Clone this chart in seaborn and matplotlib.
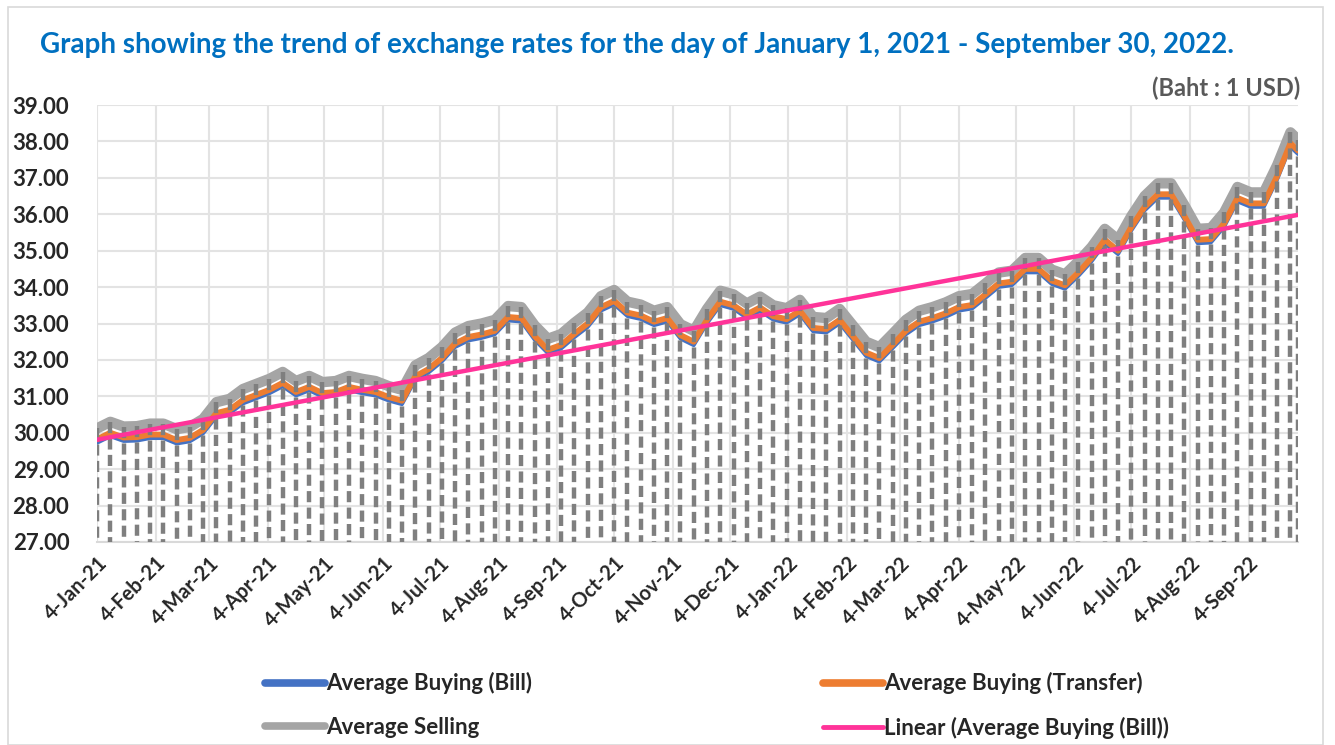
import numpy as np
import pandas as pd
import matplotlib
matplotlib.use("Agg")
import matplotlib.pyplot as plt
import matplotlib.dates as mdates
from matplotlib.patches import Rectangle
from matplotlib.lines import Line2D
import seaborn as sns

# ============================================
# Data: weekly readings, 4-Jan-21 .. 30-Sep-22 (Baht : 1 USD)
# ============================================
dates = list(pd.date_range("2021-01-04", periods=91, freq="7D")) + [pd.Timestamp("2022-09-30")]

bill = [29.72, 29.90, 29.77, 29.78, 29.85, 29.85, 29.70, 29.76, 29.98, 30.44,
        30.53, 30.80, 30.94, 31.08, 31.27, 31.02, 31.16, 30.99, 31.02, 31.16,
        31.08, 31.02, 30.88, 30.78, 31.45, 31.65, 31.95, 32.35, 32.53, 32.60,
        32.70, 33.08, 33.05, 32.55, 32.18, 32.31, 32.62, 32.90, 33.35, 33.52,
        33.20, 33.12, 32.95, 33.05, 32.58, 32.40, 33.00, 33.50, 33.40, 33.15,
        33.34, 33.10, 33.02, 33.25, 32.78, 32.75, 33.00, 32.55, 32.10, 31.95,
        32.32, 32.70, 32.95, 33.05, 33.18, 33.35, 33.41, 33.70, 34.00, 34.05,
        34.40, 34.40, 34.08, 33.95, 34.30, 34.70, 35.20, 34.90, 35.55, 36.10,
        36.45, 36.45, 35.85, 35.20, 35.22, 35.65, 36.35, 36.20, 36.20, 36.95,
        37.85, 37.65]

transfer = [29.82, 30.00, 29.87, 29.88, 29.95, 29.95, 29.80, 29.86, 30.08, 30.54,
            30.63, 30.90, 31.04, 31.18, 31.37, 31.12, 31.26, 31.09, 31.12, 31.26,
            31.18, 31.12, 30.98, 30.88, 31.55, 31.75, 32.05, 32.45, 32.63, 32.70,
            32.80, 33.18, 33.15, 32.65, 32.28, 32.41, 32.72, 33.00, 33.45, 33.62,
            33.30, 33.22, 33.05, 33.15, 32.68, 32.50, 33.10, 33.60, 33.50, 33.25,
            33.44, 33.20, 33.12, 33.35, 32.88, 32.85, 33.10, 32.65, 32.20, 32.05,
            32.42, 32.80, 33.05, 33.15, 33.28, 33.45, 33.51, 33.80, 34.10, 34.15,
            34.50, 34.50, 34.18, 34.05, 34.40, 34.80, 35.30, 35.00, 35.65, 36.20,
            36.55, 36.55, 35.95, 35.30, 35.32, 35.75, 36.45, 36.30, 36.30, 37.05,
            37.95, 37.75]

selling = [30.12, 30.30, 30.17, 30.18, 30.25, 30.25, 30.10, 30.16, 30.38, 30.84,
           30.93, 31.20, 31.34, 31.48, 31.67, 31.42, 31.56, 31.39, 31.42, 31.56,
           31.48, 31.42, 31.28, 31.18, 31.85, 32.05, 32.35, 32.75, 32.93, 33.00,
           33.10, 33.48, 33.45, 32.95, 32.58, 32.71, 33.02, 33.30, 33.75, 33.92,
           33.60, 33.52, 33.35, 33.45, 32.98, 32.80, 33.40, 33.90, 33.80, 33.55,
           33.74, 33.50, 33.42, 33.65, 33.18, 33.15, 33.40, 32.95, 32.50, 32.35,
           32.72, 33.10, 33.35, 33.45, 33.58, 33.75, 33.81, 34.10, 34.40, 34.45,
           34.80, 34.80, 34.48, 34.35, 34.70, 35.10, 35.60, 35.30, 35.95, 36.50,
           36.85, 36.85, 36.25, 35.60, 35.62, 36.05, 36.75, 36.60, 36.60, 37.35,
           38.25, 38.05]

y_ticks = [27, 28, 29, 30, 31, 32, 33, 34, 35, 36, 37, 38, 39]

df = pd.DataFrame({"date": dates, "bill": bill, "transfer": transfer, "selling": selling})

BLUE, ORANGE, GREY, PINK = "#4472C4", "#ED7D31", "#A5A5A5", "#FF3399"

# ============================================
# Figure
# ============================================
sns.set_style("white")
plt.rcParams["font.family"] = ["Lato", "DejaVu Sans"]

fig = plt.figure(figsize=(13.35, 7.45), dpi=100)
ax = fig.add_axes([0.0727, 0.2725, 0.8996, 0.5865])

# outer chart border
fig.patches.append(Rectangle((0.006, 0.0), 0.985, 0.99, transform=fig.transFigure,
                             fill=False, edgecolor="#d9d9d9", linewidth=1.2))

# series
sns.lineplot(data=df, x="date", y="bill", ax=ax, color=BLUE, linewidth=2.6, zorder=3)
sns.lineplot(data=df, x="date", y="transfer", ax=ax, color=ORANGE, linewidth=4.2, zorder=4)
sns.lineplot(data=df, x="date", y="selling", ax=ax, color=GREY, linewidth=7.5, zorder=2)

# drop lines from the highest series, dashed from the point downwards
ax.vlines(df["date"], df["selling"], 27, colors="#7f7f7f", linewidth=3.2,
          linestyles=(0, (2.5, 1.2)), zorder=5)

# linear trend of bill
xnum = mdates.date2num(df["date"])
slope, intercept = np.polyfit(xnum, df["bill"], 1)
xs = np.array([xnum[0], xnum[-1]])
ax.plot(mdates.num2date(xs), slope * xs + intercept, color=PINK, linewidth=3.2, zorder=6)

# axes
ax.set_ylim(27, 39)
ax.set_yticks(y_ticks)
ax.set_yticklabels([f"{v:.2f}" for v in y_ticks], fontsize=16, fontweight="bold")
ax.set_xlim(pd.Timestamp("2021-01-04"), pd.Timestamp("2022-09-30"))
ax.xaxis.set_major_locator(mdates.MonthLocator(bymonthday=4))
ax.xaxis.set_major_formatter(mdates.DateFormatter("%-d-%b-%y"))
for lbl in ax.get_xticklabels():
    lbl.set_rotation(45)
    lbl.set_ha("right")
    lbl.set_rotation_mode("anchor")
    lbl.set_fontsize(14.5)
    lbl.set_fontweight("bold")
ax.tick_params(axis="both", length=0, pad=8)
ax.tick_params(axis="y", pad=20)
ax.grid(True, color="#e3e3e3", linewidth=1.5)
ax.set_axisbelow(True)
ax.set_xlabel("")
ax.set_ylabel("")
for s in ["left", "right", "top"]:
    ax.spines[s].set_visible(False)
ax.spines["bottom"].set_color("#d9d9d9")
ax.spines["bottom"].set_linewidth(1.5)

# legend
handles = [Line2D([], [], color=BLUE, lw=5.5, solid_capstyle="round"),
           Line2D([], [], color=GREY, lw=5.5, solid_capstyle="round"),
           Line2D([], [], color=ORANGE, lw=5.5, solid_capstyle="round"),
           Line2D([], [], color=PINK, lw=3.5, solid_capstyle="round")]
labels = ["Average Buying (Bill)", "Average Selling",
          "Average Buying (Transfer)", "Linear (Average Buying (Bill))"]
fig.legend(handles, labels, loc="center", bbox_to_anchor=(0.537, 0.053), ncol=2,
           frameon=False, handlelength=2.7, handletextpad=0.05, columnspacing=13.1,
           labelspacing=1.0, prop={"weight": "bold", "size": 16})

# titles
fig.text(0.03, 0.94, "Graph showing the trend of exchange rates for the day of January 1, 2021 - September 30, 2022.",
         color="#0070C0", fontsize=20, fontweight="bold", ha="left", va="center")
fig.text(0.974, 0.882, "(Baht : 1 USD)", color="#595959", fontsize=17, fontweight="bold",
         ha="right", va="center")

fig.savefig("out.png", dpi=100)
